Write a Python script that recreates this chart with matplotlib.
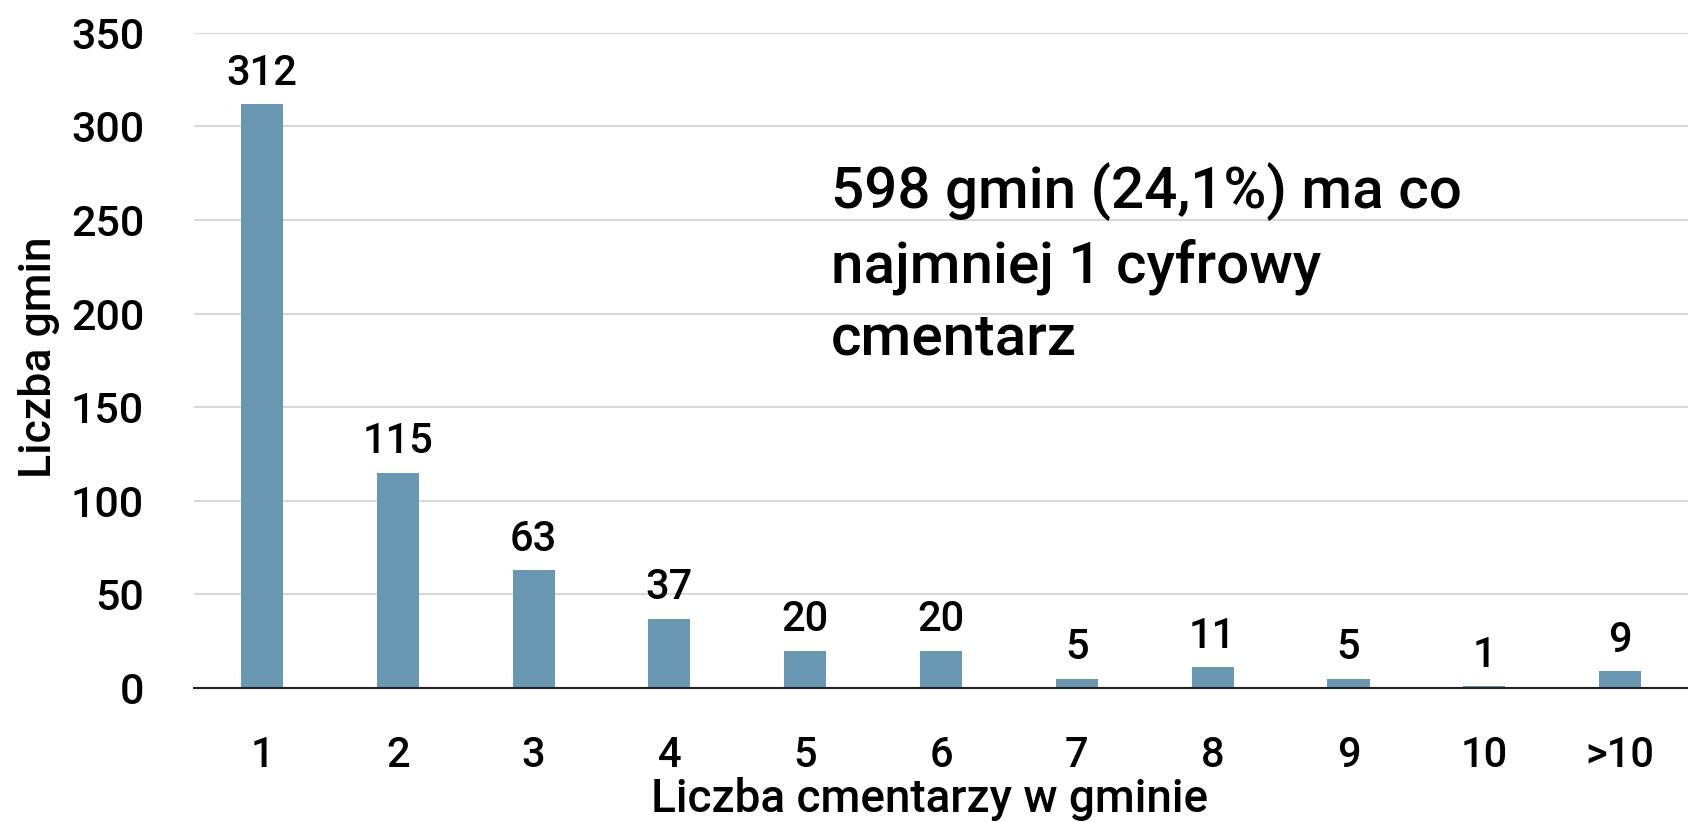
import numpy as np
import matplotlib
matplotlib.use('Agg')
import matplotlib.pyplot as plt

categories = ['1', '2', '3', '4', '5', '6', '7', '8', '9', '10', '>10']
counts = [312, 115, 63, 37, 20, 20, 5, 11, 5, 1, 9]
y_ticks = [0, 50, 100, 150, 200, 250, 300, 350]

plt.rcParams['font.family'] = ['Roboto', 'DejaVu Sans']
plt.rcParams['font.weight'] = 500

fig = plt.figure(figsize=(16.88, 8.22), dpi=100)
ax = fig.add_axes([0.115, 0.163, 0.885, 0.797])

x = np.arange(len(categories))
ax.bar(x, counts, width=0.31, color='#6a98b2', zorder=3)

# value labels above bars
for xi, v in zip(x, counts):
    ax.annotate(str(v), (xi, v), xytext=(0, 14), textcoords='offset points',
                ha='center', va='baseline', fontsize=30, fontweight=500)

ax.set_xlim(-0.5, len(categories) - 0.5)
ax.set_ylim(0, 350)
ax.set_yticks(y_ticks)
ax.set_xticks(x)
ax.set_xticklabels(categories)
ax.tick_params(axis='y', length=0, labelsize=31, pad=36)
ax.tick_params(axis='x', length=0, labelsize=30, pad=34)
ax.yaxis.grid(True, color='#d9d9d9', linewidth=1.5, zorder=0)
for s in ['top', 'right', 'left']:
    ax.spines[s].set_visible(False)
ax.spines['bottom'].set_color('#222222')
ax.spines['bottom'].set_linewidth(1.5)
ax.spines['bottom'].set_zorder(4)

ax.set_ylabel('Liczba gmin', fontsize=32, fontweight=500)
ax.yaxis.set_label_coords(-0.09, 0.505)
ax.set_xlabel('Liczba cmentarzy w gminie', fontsize=33, fontweight=500)
ax.xaxis.set_label_coords(0.492, -0.136)

ax.text(4.19, 178, '598 gmin (24,1%) ma co\nnajmniej 1 cyfrowy\ncmentarz',
        fontsize=42, fontweight=500, ha='left', va='baseline', linespacing=1.4)

fig.savefig('out.png', dpi=100)
